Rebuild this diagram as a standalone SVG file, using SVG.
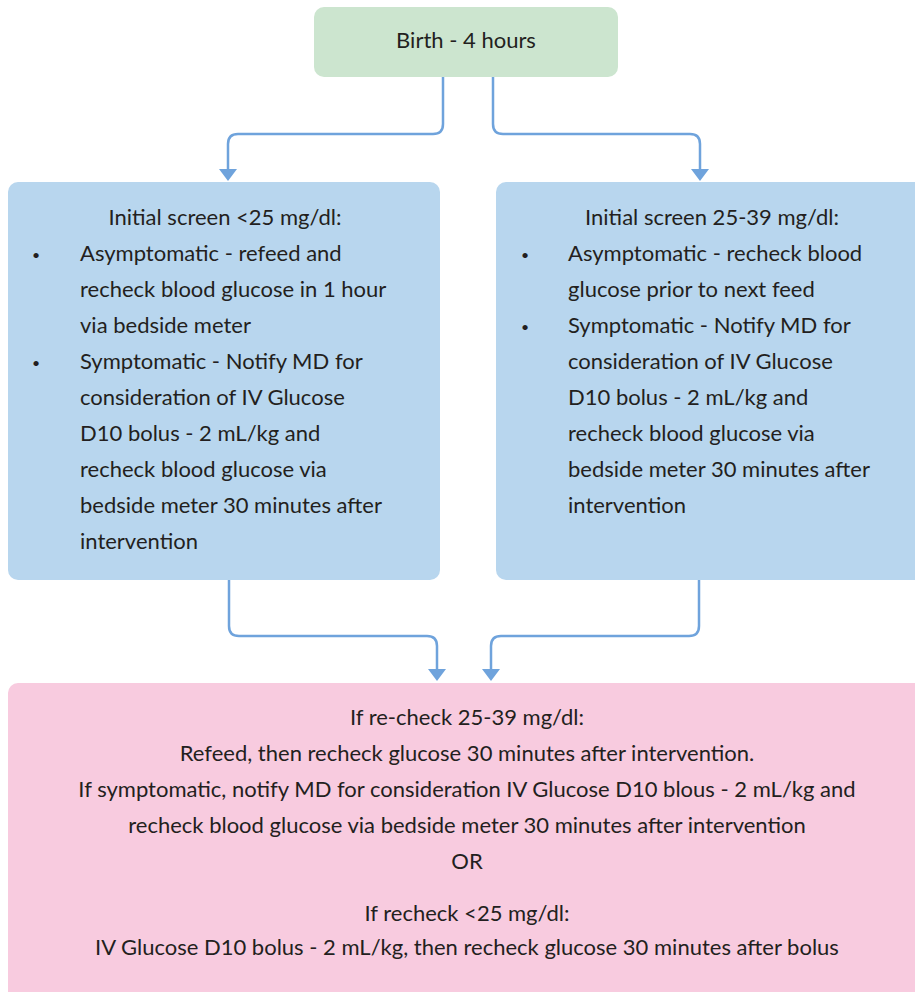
<svg xmlns="http://www.w3.org/2000/svg" width="915" height="992" viewBox="0 0 915 992">
<style>
.t{font-family:Lato,"Open Sans","Liberation Sans",sans-serif;font-size:22px;fill:#231f20}
.c{text-anchor:middle}
.b{font-family:Lato,"Open Sans","Liberation Sans",sans-serif;font-size:14px;fill:#231f20}
.conn{fill:none;stroke:#6fa3dc;stroke-width:2.5}
.ah{fill:#6fa3dc}
</style>
<rect width="915" height="992" fill="#ffffff"/>
<g id="connectors">
<path class="conn" d="M443,77 V124 Q443,134 433,134 H238 Q228,134 228,144 V170"/>
<polygon class="ah" points="219,169 237,169 228,181"/>
<path class="conn" d="M493,77 V124 Q493,134 503,134 H690 Q700,134 700,144 V170"/>
<polygon class="ah" points="691,169 709,169 700,181"/>
<path class="conn" d="M229,580 V626 Q229,636 239,636 H427 Q437,636 437,646 V670"/>
<polygon class="ah" points="428,669 446,669 437,681"/>
<path class="conn" d="M699,580 V626 Q699,636 689,636 H501 Q491,636 491,646 V670"/>
<polygon class="ah" points="482,669 500,669 491,681"/>
</g>
<g id="n-birth">
<rect x="314" y="7" width="304" height="70" rx="10" fill="#cce5cf"/>
<text class="t c" x="466" y="48">Birth - 4 hours</text>
</g>
<g id="n-left">
<rect x="8" y="182" width="432" height="398" rx="10" fill="#b8d6ee"/>
<text class="t c" x="225" y="225">Initial screen &lt;25 mg/dl:</text>
<text class="b" x="32" y="260">•</text>
<text class="t" x="80" y="261">Asymptomatic - refeed and</text>
<text class="t" x="80" y="297">recheck blood glucose in 1 hour</text>
<text class="t" x="80" y="333">via bedside meter</text>
<text class="b" x="32" y="368">•</text>
<text class="t" x="80" y="369">Symptomatic - Notify MD for</text>
<text class="t" x="80" y="405">consideration of IV Glucose</text>
<text class="t" x="80" y="441">D10 bolus - 2 mL/kg and</text>
<text class="t" x="80" y="477">recheck blood glucose via</text>
<text class="t" x="80" y="513">bedside meter 30 minutes after</text>
<text class="t" x="80" y="549">intervention</text>
</g>
<g id="n-right">
<rect x="496" y="182" width="440" height="398" rx="10" fill="#b8d6ee"/>
<text class="t c" x="712" y="225">Initial screen 25-39 mg/dl:</text>
<text class="b" x="521" y="260">•</text>
<text class="t" x="568" y="261">Asymptomatic - recheck blood</text>
<text class="t" x="568" y="297">glucose prior to next feed</text>
<text class="b" x="521" y="332">•</text>
<text class="t" x="568" y="333">Symptomatic - Notify MD for</text>
<text class="t" x="568" y="369">consideration of IV Glucose</text>
<text class="t" x="568" y="405">D10 bolus - 2 mL/kg and</text>
<text class="t" x="568" y="441">recheck blood glucose via</text>
<text class="t" x="568" y="477">bedside meter 30 minutes after</text>
<text class="t" x="568" y="513">intervention</text>
</g>
<g id="n-bottom">
<rect x="8" y="683" width="930" height="330" rx="10" fill="#f8cbdf"/>
<text class="t c" x="467" y="725">If re-check 25-39 mg/dl:</text>
<text class="t c" x="467" y="761">Refeed, then recheck glucose 30 minutes after intervention.</text>
<text class="t c" x="467" y="797">If symptomatic, notify MD for consideration IV Glucose D10 blous - 2 mL/kg and</text>
<text class="t c" x="467" y="833">recheck blood glucose via bedside meter 30 minutes after intervention</text>
<text class="t c" x="467" y="869">OR</text>
<text class="t c" x="467" y="921">If recheck &lt;25 mg/dl:</text>
<text class="t c" x="467" y="955">IV Glucose D10 bolus - 2 mL/kg, then recheck glucose 30 minutes after bolus</text>
</g>
</svg>
